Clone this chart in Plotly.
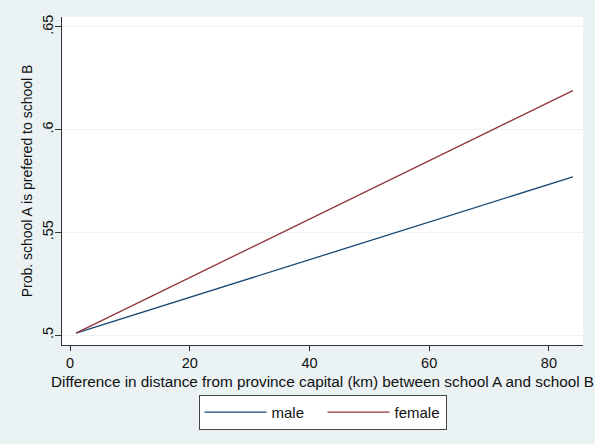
import plotly.graph_objects as go

# Data
distance = [1, 84]
male = [0.501, 0.577]
female = [0.501, 0.619]

x_ticks = [0, 20, 40, 60, 80]
y_ticks = [0.5, 0.55, 0.6, 0.65]
y_ticktext = [".5", ".55", ".6", ".65"]

x_title = "Difference in distance from province capital (km) between school A and school B"
y_title = "Prob. school A is prefered to school B"

navy = "#1a476f"
maroon = "#90353b"
bg = "#eaf2f3"
font = "Liberation Sans, Arial, sans-serif"

fig = go.Figure()
fig.add_trace(go.Scatter(x=distance, y=male, mode="lines", name="male",
                         line=dict(color=navy, width=1.3)))
fig.add_trace(go.Scatter(x=distance, y=female, mode="lines", name="female",
                         line=dict(color=maroon, width=1.3)))

fig.update_layout(
    width=595, height=444,
    margin=dict(l=62, r=12, t=17, b=99),
    paper_bgcolor=bg, plot_bgcolor="white",
    font=dict(family=font, size=14.5, color="#111"),
    showlegend=True,
    legend=dict(orientation="h", x=0.5, xanchor="center", y=-0.152, yanchor="top",
                bordercolor="#444", borderwidth=1, bgcolor="white",
                font=dict(size=15), itemwidth=62, entrywidth=46),
)
fig.add_annotation(text=x_title, xref="paper", yref="paper", x=0.5, y=-0.1098,
                   xanchor="center", yanchor="middle", showarrow=False,
                   font=dict(size=15.3))
fig.update_xaxes(range=[-1.34, 85.7], tickvals=x_ticks, showgrid=False, zeroline=False,
                 automargin=False,
                 showline=True, linecolor="#333", linewidth=1, ticks="outside",
                 ticklen=5, tickcolor="#333", tickfont=dict(size=14.5),
                 ticklabelstandoff=0)
fig.update_yaxes(range=[0.4952, 0.6548], tickvals=y_ticks, ticktext=y_ticktext,
                 automargin=False,
                 tickangle=-90, showgrid=True, gridcolor=bg, zeroline=False,
                 showline=True, linecolor="#333", linewidth=1, ticks="outside",
                 ticklen=6, tickcolor="#333", tickfont=dict(size=14.5),
                 ticklabelstandoff=-4,
                 title=dict(text=y_title, standoff=4, font=dict(size=14)))

fig.write_html("out.html", config={"displayModeBar": False},
               post_script="document.body.style.margin='0';document.body.style.background='%s';" % bg)
